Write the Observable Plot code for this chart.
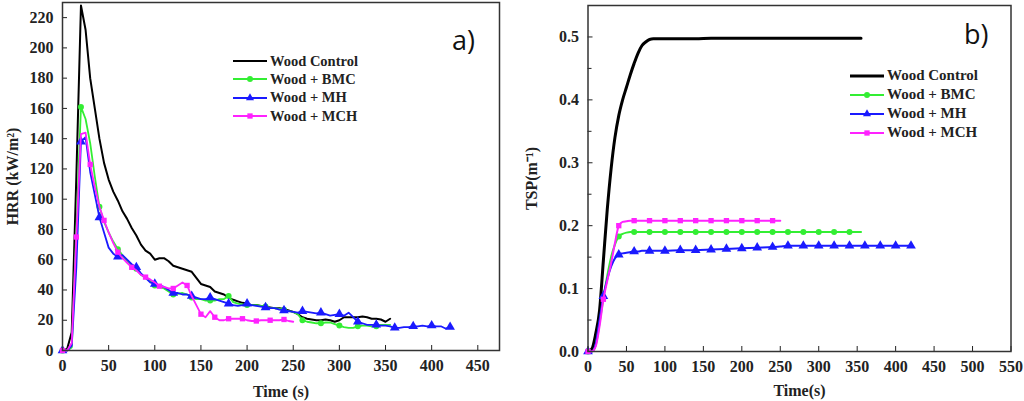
<!DOCTYPE html>
<html>
<head>
<meta charset="utf-8">
<script src="https://cdn.jsdelivr.net/npm/d3@7"></script>
<script src="https://cdn.jsdelivr.net/npm/@observablehq/plot@0.6"></script>
<style>
  body { margin: 0; background: #fff; }
  #wrap { position: relative; width: 1024px; height: 401px; overflow: hidden; font-family: "Liberation Serif", serif; font-weight: bold; color: #222; }
  .panel { position: absolute; top: 0; }
  .legend { position: absolute; }
  .legend div { display: flex; align-items: center; white-space: nowrap; }
  .legend svg { margin-right: 3px; }
  .tag { position: absolute; font-family: "Open Sans", sans-serif; font-size: 27px; line-height: 1; font-weight: normal; color: #111; }
</style>
</head>
<body>
<div id="wrap">
  <div class="panel" id="hrr" style="left:0"></div>
  <div class="panel" id="tsp" style="left:510px"></div>
  <div class="tag" style="left:452px; top:26px">a)</div>
  <div class="tag" style="left:964px; top:20px">b)</div>
  <div class="legend" id="leg-a" style="left:233px; top:52px; font-size:14.5px"></div>
  <div class="legend" id="leg-b" style="left:850px; top:66px; font-size:15px"></div>
</div>
<script>
// series names and colours
const series = ["Wood Control", "Wood + BMC", "Wood + MH", "Wood + MCH"];
const colors = ["#000000", "#33ee33", "#1a1aff", "#ff22ff"];
const symbols = [null, "circle", "triangle", "square"];

// a) heat release rate, one value every 5 s
const hrrTime = [
  0, 5, 10, 15, 20, 25, 30, 35, 40, 45, 50, 55, 60, 65, 70, 75, 80, 85, 90, 95,
  100, 105, 110, 115, 120, 125, 130, 135, 140, 145, 150, 155, 160, 165, 170, 175, 180, 185, 190, 195,
  200, 205, 210, 215, 220, 225, 230, 235, 240, 245, 250, 255, 260, 265, 270, 275, 280, 285, 290, 295,
  300, 305, 310, 315, 320, 325, 330, 335, 340, 345, 350, 355, 360, 365, 370, 375, 380, 385, 390, 395,
  400, 405, 410, 415, 420
];
const hrrControl = [
  0, 1, 12, 115, 228, 212, 180, 160, 140, 124,
  113, 105, 99, 92, 87, 81, 76, 70, 66, 64,
  60, 61, 61, 59, 56, 55, 54, 53, 52, 48,
  44, 43, 42, 39, 38, 37, 35, 33.5, 32.5, 31.5,
  31, 30, 30, 29.5, 29, 28.5, 28, 28, 27.5, 26.5,
  25.5, 24, 22, 21, 20.5, 20, 20, 20.5, 20, 19,
  20, 22, 22, 22, 22, 22.5, 22, 21, 21, 20.5,
  19, 21
];
const hrrBMC = [
  0, 0, 2, 80, 161, 153, 137, 115, 95, 85,
  78, 72, 67, 63, 59, 56, 54, 50, 48, 46,
  43, 42, 41, 39, 37, 37.5, 38, 37, 35, 34,
  34, 33, 33, 33, 34, 34, 36, 32, 31, 30.5,
  30, 30, 30, 29.5, 29, 28, 28, 27.5, 27, 26,
  25.5, 24, 20, 19, 18.5, 18, 18, 18.5, 18.5, 17.5,
  16.5, 15.5, 15, 15, 16, 16.5, 16.5, 16, 16, 17,
  17, 17
];
const hrrMH = [
  0, 0, 3, 55, 138, 141, 118, 103, 88, 78,
  68, 64, 62, 63, 60, 57, 55, 51, 48, 45,
  44, 43, 42, 40, 38, 38, 37, 37, 36, 35,
  34, 34, 35, 34, 33, 32, 31, 30, 29.5, 30,
  31, 30, 29.5, 29, 28.5, 28, 28, 27, 26.5, 26,
  25.5, 25, 26, 25.5, 25, 24.5, 25, 24, 23, 23.5,
  24, 23, 25, 22, 19, 18, 17, 17, 17, 16.5,
  16.5, 16, 15, 15, 15.5, 15.5, 16, 16, 16.5, 16,
  16.5, 16, 16, 14.5, 15.5
];
const hrrMCH = [
  0, 0, 5, 75, 143, 144, 123, 108, 95, 86,
  78, 71, 65, 61, 58, 55, 53, 50, 48.5, 47,
  45, 42.5, 42, 41, 41, 43, 45, 43, 36, 30,
  24, 22, 26, 22, 20, 20, 21, 21, 21, 21,
  20, 19.5, 19.5, 20, 20, 20, 20, 20, 20.5, 19.5,
  19
];
const hrrXTicks = [0, 50, 100, 150, 200, 250, 300, 350, 400, 450];
const hrrYTicks = [0, 20, 40, 60, 80, 100, 120, 140, 160, 180, 200, 220];

// b) total smoke production
const tspTime = [
  0, 5, 10, 15, 20, 25, 30, 35, 40, 45, 50, 55, 60, 65, 70, 75, 80, 85, 90,
  100, 120, 140, 160, 180, 200, 220, 240, 250, 260, 280, 300, 320, 340, 355, 360, 380, 400, 420
];
const tspControl = [
  0, 0.004, 0.028, 0.065, 0.145, 0.225, 0.29, 0.34, 0.375, 0.40,
  0.42, 0.44, 0.458, 0.474, 0.486, 0.492, 0.496, 0.497, 0.497,
  0.497, 0.497, 0.497, 0.498, 0.498, 0.498, 0.498, 0.498, 0.498, 0.498,
  0.498, 0.498, 0.498, 0.498, 0.498
];
const tspBMC = [
  0, 0, 0.01, 0.045, 0.085, 0.12, 0.15, 0.17, 0.183, 0.187,
  0.189, 0.19, 0.19, 0.19, 0.19, 0.19, 0.19, 0.19, 0.19,
  0.19, 0.19, 0.19, 0.19, 0.19, 0.19, 0.19, 0.19, 0.19, 0.19,
  0.19, 0.19, 0.19, 0.19, 0.19
];
const tspMH = [
  0, 0, 0.012, 0.05, 0.088, 0.115, 0.135, 0.148, 0.154, 0.156,
  0.157, 0.158, 0.159, 0.159, 0.16, 0.16, 0.16, 0.16, 0.16,
  0.16, 0.161, 0.161, 0.162, 0.163, 0.164, 0.165, 0.166, 0.167, 0.168,
  0.168, 0.168, 0.168, 0.168, 0.168, 0.168, 0.168, 0.168, 0.168
];
const tspMCH = [
  0, 0, 0.008, 0.04, 0.083, 0.112, 0.14, 0.172, 0.2, 0.206,
  0.207, 0.208, 0.208, 0.208, 0.208, 0.208, 0.208, 0.208, 0.208,
  0.208, 0.208, 0.208, 0.208, 0.208, 0.208, 0.208, 0.208, 0.208
];
const tspXTicks = [0, 50, 100, 150, 200, 250, 300, 350, 400, 450, 500, 550];
const tspYTicks = [0, 0.1, 0.2, 0.3, 0.4, 0.5];
const tspYMinor = [0.05, 0.15, 0.25, 0.35, 0.45];

function rows(time, values) {
  return values.map((v, i) => ({t: time[i], v}));
}

// markers every 15 s for MCH in a), every 20 s otherwise
function seriesMarks(time, all, markEvery, curve, widths) {
  const marks = [];
  all.forEach((vals, k) => {
    const data = rows(time, vals);
    marks.push(Plot.line(data, {x: "t", y: "v", stroke: colors[k], strokeWidth: widths[k], curve}));
    if (symbols[k]) {
      marks.push(Plot.dot(data.filter((d) => d.t % markEvery[k] === 0), {
        x: "t", y: "v", fill: colors[k], symbol: symbols[k], r: k === 2 ? 3.6 : 3
      }));
    }
  });
  return marks;
}

const font = {fontFamily: "Liberation Serif", fontSize: 16, fontWeight: "bold", fontVariant: "normal", fill: "#222"};
const style = {fontFamily: "'Liberation Serif', serif", fontSize: "16px", fontWeight: "bold", color: "#222", background: "transparent"};

const hrrPlot = Plot.plot({
  width: 510, height: 401,
  marginLeft: 62, marginRight: 11, marginTop: 2, marginBottom: 51,
  x: {domain: [0, 473.5]},
  y: {domain: [0, 230]},
  style,
  marks: [
    ...seriesMarks(hrrTime, [hrrControl, hrrBMC, hrrMH, hrrMCH], [0, 20, 20, 15], "linear", [2, 1.8, 1.8, 1.8]),
    Plot.axisX(hrrXTicks, {...font, tickSize: -5, tickFormat: "d", label: "Time (s)", labelAnchor: "center", labelOffset: 46, labelArrow: "none"}),
    Plot.axisY(hrrYTicks, {...font, tickSize: -5, tickFormat: "d", label: "HRR (kW/m²)", labelAnchor: "center", labelOffset: 56, labelArrow: "none"}),
    Plot.frame({stroke: "#333", strokeWidth: 1.5})
  ]
});

const tspPlot = Plot.plot({
  width: 514, height: 401,
  marginLeft: 77.5, marginRight: 13.5, marginTop: 5, marginBottom: 50,
  x: {domain: [0, 550]},
  y: {domain: [0, 0.55]},
  style,
  marks: [
    ...seriesMarks(tspTime, [tspControl, tspBMC, tspMH, tspMCH], [0, 20, 20, 20], "monotone-x", [3, 2, 2, 2]),
    Plot.axisX(tspXTicks, {...font, tickSize: -5, tickFormat: "d", label: "Time(s)", labelAnchor: "center", labelOffset: 44, labelArrow: "none"}),
    Plot.axisY(tspYTicks, {...font, tickSize: -5, tickFormat: ".1f", label: "TSP(m⁻¹)", labelAnchor: "center", labelOffset: 62, labelArrow: "none"}),
    Plot.axisY(tspYMinor, {tickSize: -4, tickFormat: () => "", label: null}),
    Plot.frame({stroke: "#333", strokeWidth: 1.5})
  ]
});

d3.select("#hrr").append(() => hrrPlot);
d3.select("#tsp").append(() => tspPlot);

// legends
function legend(id, rowH, blackWidth) {
  const box = d3.select(id);
  series.forEach((name, k) => {
    const row = box.append("div").style("height", rowH + "px");
    const svg = row.append("svg").attr("width", 34).attr("height", 10);
    svg.append("line").attr("x1", 0).attr("x2", 34).attr("y1", 5).attr("y2", 5)
      .attr("stroke", colors[k]).attr("stroke-width", k === 0 ? blackWidth : 2);
    if (symbols[k]) {
      const sym = {circle: d3.symbolCircle, triangle: d3.symbolTriangle, square: d3.symbolSquare}[symbols[k]];
      svg.append("path").attr("transform", "translate(17,5)")
        .attr("d", d3.symbol(sym, 28)()).attr("fill", colors[k]);
    }
    row.append("span").text(name);
  });
}
legend("#leg-a", 18.3, 2);
legend("#leg-b", 19, 3);
</script>
</body>
</html>
